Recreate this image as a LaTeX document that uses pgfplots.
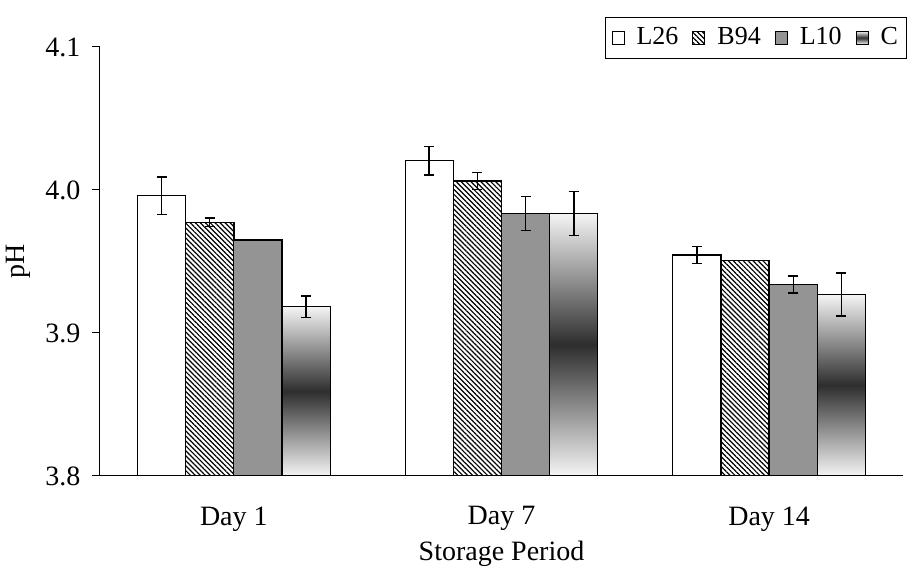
\documentclass[border=0pt]{standalone}
\usepackage{fontspec}
\setmainfont{Liberation Serif}
\usepackage{pgfplots}
\pgfplotsset{compat=1.18}
\usepackage{pgfplotstable}
\usetikzlibrary{patterns.meta}

\pgfplotstableread{
x y e
0 3.996 0.0132
1 4.0205 0.0099
2 3.9545 0.0060
}\Ltwentysix
\pgfplotstableread{
x y e
0 3.9774 0.0031
1 4.0063 0.0060
2 3.9508 0.0
}\Bninetyfour
\pgfplotstableread{
x y e
0 3.965 0.0
1 3.9837 0.0119
2 3.9338 0.0060
}\Lten

\begin{document}
\fontsize{28}{33}\selectfont
\begin{tikzpicture}
\begin{axis}[
  name=ax,
  scale only axis,
  width=803pt, height=429pt,
  xmin=-0.5, xmax=2.5,
  ymin=3.8, ymax=4.1,
  axis x line*=bottom,
  axis y line*=left,
  axis line style={line width=1pt, -},
  xtick={0,1,2},
  xticklabels={Day 1,Day 7,Day 14},
  xtick style={draw=none},
  minor xtick={-0.5,0.5,1.5,2.5},
  minor x tick style={line width=1pt, black},
  ytick={3.8,3.9,4.0,4.1},
  ytick style={line width=1pt, black},
  tick align=outside,
  major tick length=8pt,
  minor tick length=9pt,
  yticklabel style={/pgf/number format/fixed, /pgf/number format/fixed zerofill, /pgf/number format/precision=1, xshift=-2pt},
  /pgf/number format/assume math mode=true,
  ticklabel style={font=\fontsize{28}{33}\selectfont},
  xticklabel style={yshift=-13pt},
  ylabel={pH},
  ylabel style={font=\fontsize{28}{33}\selectfont, yshift=-4pt},
  xlabel={Storage Period},
  xlabel style={font=\fontsize{28}{33}\selectfont, yshift=9pt},
  bar width=0.18,
  area legend,
  legend columns=4,
  legend style={at={(0.629,0.972)}, anchor=south west, draw=black, line width=1pt,
    font=\fontsize{26}{30}\selectfont, inner xsep=6pt, inner ysep=8pt,
    /tikz/every odd column/.append style={column sep=10pt},
    /tikz/every even column/.append style={column sep=12pt}},
  legend image code/.code={\draw[#1, line width=1pt] (0pt,-6.5pt) rectangle (12pt,6.5pt);},
  error bars/y dir=both,
  error bars/y explicit,
  error bars/error bar style={line width=1.5pt, black},
  error bars/error mark options={rotate=90, mark size=5pt, line width=1.5pt, black},
]
\addplot[ybar, bar shift=0, draw=black, line width=1.2pt, fill=white]
  table[x expr=\thisrow{x}-0.27, y=y, y error=e]{\Ltwentysix};
\addplot[ybar, bar shift=0, draw=black, line width=1.4pt,
  pattern={Lines[angle=-45, distance=3.5pt, line width=1.2pt]}]
  table[x expr=\thisrow{x}-0.09, y=y, y error=e]{\Bninetyfour};
\addplot[ybar, bar shift=0, draw=black, line width=1.2pt, fill=black!42]
  table[x expr=\thisrow{x}+0.09, y=y, y error=e]{\Lten};
\addplot[ybar, bar shift=0, draw=black, line width=1.2pt,
  top color=white!96!black, bottom color=white!96!black, middle color=black!82]
  coordinates {(0.27,3.9184) +- (0,0.0076)};
\addplot[ybar, bar shift=0, draw=black, line width=1.2pt, forget plot,
  top color=white!96!black, bottom color=white!96!black, middle color=black!82]
  coordinates {(1.27,3.9837) +- (0,0.0154)};
\addplot[ybar, bar shift=0, draw=black, line width=1.2pt, forget plot,
  top color=white!96!black, bottom color=white!96!black, middle color=black!82]
  coordinates {(2.27,3.927) +- (0,0.0151)};
\legend{L26,B94,L10,C}
\end{axis}
\pgfresetboundingbox
\path ([shift={(-100pt,-91pt)}]ax.south west) rectangle ([shift={(5pt,47pt)}]ax.north east);
\end{tikzpicture}
\end{document}
